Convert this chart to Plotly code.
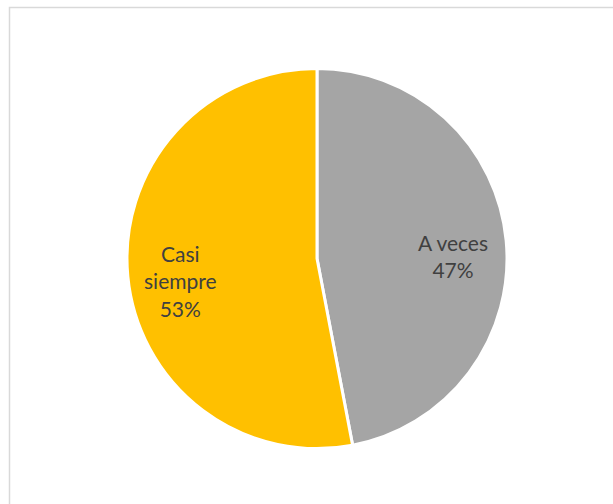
import math
import plotly.graph_objects as go

labels = ["A veces", "Casi siempre"]
label_lines = ["A veces", "Casi<br>siempre"]
values = [47, 53]
colors = ["#A5A5A5", "#FFC000"]

W, H = 613, 504
cx, cy, r = 317, 258.5, 190

fig = go.Figure(go.Pie(
    labels=labels,
    values=values,
    sort=False,
    direction="clockwise",
    rotation=0,
    marker=dict(colors=colors, line=dict(color="white", width=3)),
    textinfo="none",
    showlegend=False,
    hoverinfo="label+percent",
    domain=dict(x=[(cx - r) / W, (cx + r) / W],
                y=[(H - cy - r) / H, (H - cy + r) / H]),
))

# data labels placed along each slice's mid angle
total = sum(values)
annotations = []
cum = 0
for lab, v in zip(label_lines, values):
    mid = (cum + v / 2) / total * 2 * math.pi
    cum += v
    px = cx + 0.72 * r * math.sin(mid)
    py = cy - 0.72 * r * math.cos(mid)
    pct = round(v / total * 100)
    annotations.append(dict(
        x=px / W, y=1 - py / H, xref="paper", yref="paper",
        text=f"{lab}<br>{pct}%", showarrow=False, yshift=-10,
        font=dict(family="Lato, Open Sans, sans-serif", size=21, color="#404040"),
        align="center", xanchor="center", yanchor="middle",
    ))

fig.update_layout(
    width=W, height=H,
    margin=dict(l=0, r=0, t=0, b=0),
    paper_bgcolor="white",
    plot_bgcolor="white",
    annotations=annotations,
    shapes=[dict(type="rect", xref="paper", yref="paper",
                 x0=9.5 / W, x1=1.05, y0=-0.05, y1=1 - 7.5 / H,
                 line=dict(color="#D9D9D9", width=1.5), fillcolor="rgba(0,0,0,0)")],
)

fig.write_html("out.html", config={"displayModeBar": False},
               post_script="document.body.style.margin='0';")
